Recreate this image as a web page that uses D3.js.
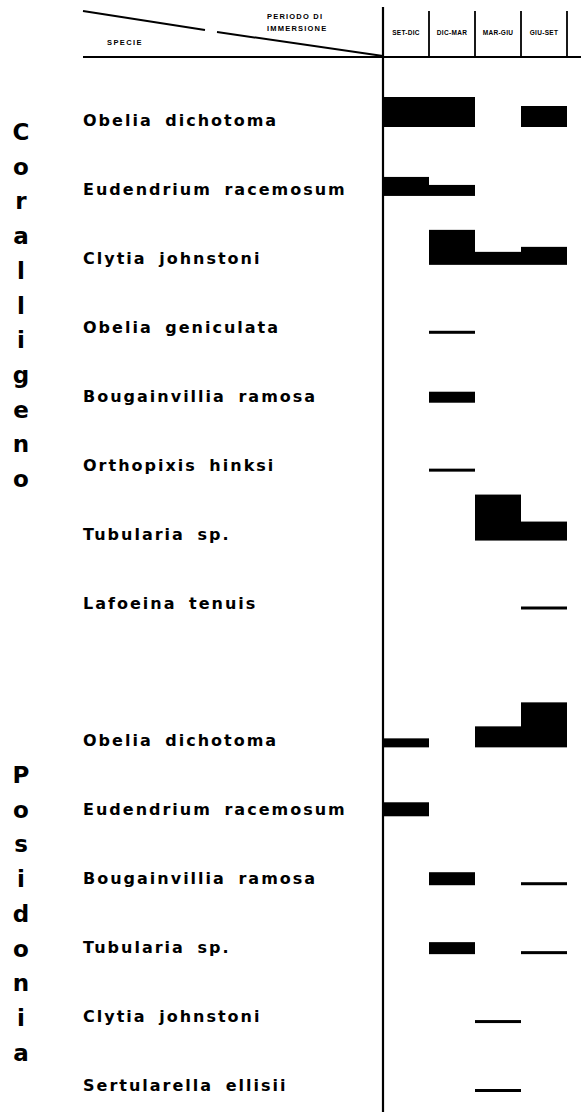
<!DOCTYPE html>
<html>
<head>
<meta charset="utf-8">
<script src="https://cdn.jsdelivr.net/npm/d3@7"></script>
<style>
  html, body { margin: 0; padding: 0; background: #fff; }
  svg { display: block; }
  text { font-family: "DejaVu Sans", "Liberation Sans", Arial, sans-serif; font-weight: bold; fill: #000; }
  text.small { font-family: "Liberation Sans", Arial, sans-serif; }
</style>
</head>
<body>
<div id="chart"></div>
<script>
// Sampling periods (columns)
const periods = ["SET-DIC", "DIC-MAR", "MAR-GIU", "GIU-SET"];

// Habitats and their species, top to bottom
const habitats = ["Coralligeno", "Posidonia"];

const coralligenoSpecies = [
  "Obelia dichotoma",
  "Eudendrium racemosum",
  "Clytia johnstoni",
  "Obelia geniculata",
  "Bougainvillia ramosa",
  "Orthopixis hinksi",
  "Tubularia sp.",
  "Lafoeina tenuis"
];
const posidoniaSpecies = [
  "Obelia dichotoma",
  "Eudendrium racemosum",
  "Bougainvillia ramosa",
  "Tubularia sp.",
  "Clytia johnstoni",
  "Sertularella ellisii"
];

// Relative abundance per period (bar thickness), one row per species
const coralligenoAbundance = [
  [30, 30, 0, 21],
  [19, 11, 0, 0],
  [0, 35, 13, 18],
  [0, 3, 0, 0],
  [0, 11, 0, 0],
  [0, 3, 0, 0],
  [0, 0, 46, 19],
  [0, 0, 0, 3]
];
const posidoniaAbundance = [
  [9, 0, 21, 45],
  [14, 0, 0, 0],
  [0, 13, 0, 3],
  [0, 12, 0, 3],
  [0, 0, 3, 0],
  [0, 0, 3, 0]
];

const W = 581, H = 1112;
const axisX = 383, colW = 46;
const headerY = 56;

const svg = d3.select("#chart").append("svg")
  .attr("width", W).attr("height", H);

svg.append("rect").attr("width", W).attr("height", H).attr("fill", "#fff");

// Period scale along x
const x = d3.scaleBand()
  .domain(periods)
  .range([axisX, axisX + colW * periods.length])
  .paddingInner(0).paddingOuter(0);

// Row slots: Coralligeno rows, one empty slot, then Posidonia rows
const rows = [];
coralligenoSpecies.forEach((s, i) => rows.push({ habitat: habitats[0], species: s, values: coralligenoAbundance[i] }));
rows.push(null);
posidoniaSpecies.forEach((s, i) => rows.push({ habitat: habitats[1], species: s, values: posidoniaAbundance[i] }));

const y = d3.scalePoint()
  .domain(d3.range(rows.length))
  .range([127, 1092]);

// Thickness scale for abundance
const thick = d3.scaleLinear().domain([0, 50]).range([0, 50]);

// ---- Header ----
const header = svg.append("g");
header.append("line")
  .attr("x1", 83).attr("x2", W).attr("y1", headerY + 1).attr("y2", headerY + 1)
  .attr("stroke", "#000").attr("stroke-width", 2.2);

// broken diagonal separating the two header captions
header.append("line")
  .attr("x1", 83).attr("y1", 11).attr("x2", 205).attr("y2", 30)
  .attr("stroke", "#000").attr("stroke-width", 2);
header.append("line")
  .attr("x1", 217).attr("y1", 32).attr("x2", axisX).attr("y2", headerY)
  .attr("stroke", "#000").attr("stroke-width", 2);

header.append("text").attr("class", "small").attr("x", 267).attr("y", 19)
  .attr("font-size", 7.5).attr("letter-spacing", 1.2).text("PERIODO DI");
header.append("text").attr("class", "small").attr("x", 267).attr("y", 31)
  .attr("font-size", 7.5).attr("letter-spacing", 1.2).text("IMMERSIONE");
header.append("text").attr("class", "small").attr("x", 107).attr("y", 45)
  .attr("font-size", 7.5).attr("letter-spacing", 1.4).text("SPECIE");

// period boundary ticks
const bounds = periods.map(p => x(p) + x.bandwidth());
header.selectAll("line.tick").data(bounds).join("line")
  .attr("class", "tick")
  .attr("x1", d => d).attr("x2", d => d)
  .attr("y1", 11).attr("y2", headerY)
  .attr("stroke", "#000").attr("stroke-width", 1.8);

header.selectAll("text.period").data(periods).join("text")
  .attr("class", "period small")
  .attr("x", d => x(d) + x.bandwidth() / 2)
  .attr("y", 35)
  .attr("text-anchor", "middle")
  .attr("font-size", 6.5)
  .attr("letter-spacing", 0.3)
  .text(d => d);

// main vertical axis
svg.append("line")
  .attr("x1", axisX).attr("x2", axisX).attr("y1", 7).attr("y2", H)
  .attr("stroke", "#000").attr("stroke-width", 2.2);

// ---- Habitat names written vertically ----
const habitatTop = { Coralligeno: 140, Posidonia: 783 };
habitats.forEach(h => {
  svg.append("g").selectAll("text").data(h.split("")).join("text")
    .attr("x", 21)
    .attr("y", (d, i) => habitatTop[h] + i * 34.7)
    .attr("text-anchor", "middle")
    .attr("font-size", 23)
    .text(d => d);
});

// ---- Species rows ----
const rowData = rows.map((r, i) => r ? Object.assign({ idx: i }, r) : null).filter(Boolean);

svg.append("g").selectAll("text").data(rowData).join("text")
  .attr("x", 83)
  .attr("y", d => y(d.idx) - 1)
  .attr("font-size", 16)
  .attr("letter-spacing", 2)
  .attr("word-spacing", 5)
  .text(d => d.species);

// abundance bars sitting on each row's baseline
const bars = [];
rowData.forEach(r => r.values.forEach((v, j) => {
  if (v > 0) bars.push({ idx: r.idx, period: periods[j], v });
}));

svg.append("g").selectAll("rect").data(bars).join("rect")
  .attr("x", d => x(d.period))
  .attr("width", x.bandwidth())
  .attr("y", d => y(d.idx) - thick(d.v))
  .attr("height", d => thick(d.v))
  .attr("fill", "#000");
</script>
</body>
</html>
